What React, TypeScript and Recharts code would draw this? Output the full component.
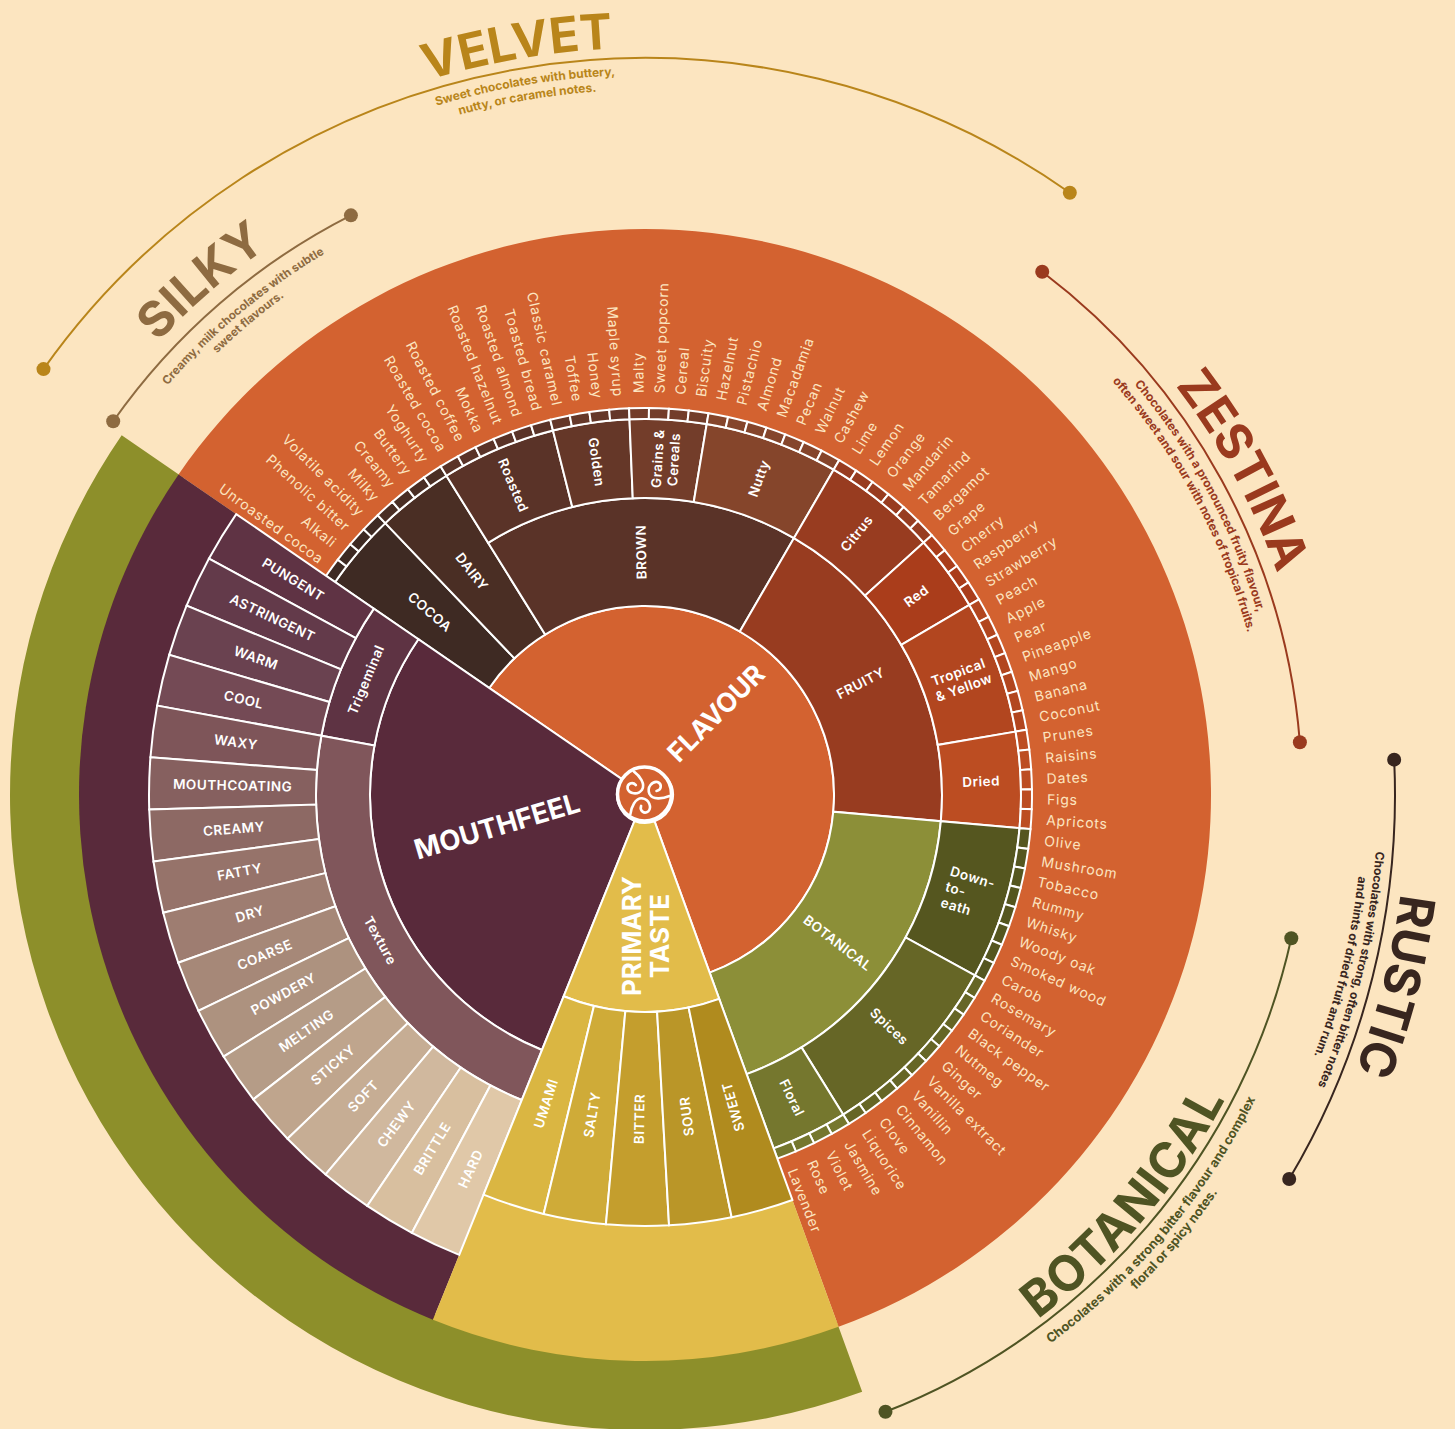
import { Cell, Pie, PieChart } from "recharts";

const CX = 645;
const CY = 795;
const PAPER = "#fce5c0";
const FONT = "Inter, 'Noto Sans', sans-serif";

const COCOA_NOTES = ["Unroasted cocoa", "Alkali", "Phenolic bitter", "Volatile acidity"];
const DAIRY_NOTES = ["Milky", "Creamy", "Buttery", "Yoghurty"];
const ROASTED_NOTES = ["Roasted cocoa", "Roasted coffee", "Mokka", "Roasted hazelnut", "Roasted almond", "Toasted bread"];
const GOLDEN_NOTES = ["Classic caramel", "Toffee", "Honey", "Maple syrup"];
const GRAIN_NOTES = ["Malty", "Sweet popcorn", "Cereal", "Biscuity"];
const NUTTY_NOTES = ["Hazelnut", "Pistachio", "Almond", "Macadamia", "Pecan", "Walnut", "Cashew"];
const CITRUS_NOTES = ["Lime", "Lemon", "Orange", "Mandarin", "Tamarind", "Bergamot"];
const RED_NOTES = ["Grape", "Cherry", "Raspberry", "Strawberry"];
const TROPICAL_NOTES = ["Peach", "Apple", "Pear", "Pineapple", "Mango", "Banana", "Coconut"];
const DRIED_NOTES = ["Prunes", "Raisins", "Dates", "Figs", "Apricots"];
const EARTH_NOTES = ["Olive", "Mushroom", "Tobacco", "Rummy", "Whisky", "Woody oak", "Smoked wood", "Carob"];
const SPICE_NOTES = ["Rosemary", "Coriander", "Black pepper", "Nutmeg", "Ginger", "Vanilla extract", "Vanillin", "Cinnamon", "Clove", "Liquorice"];
const FLORAL_NOTES = ["Jasmine", "Violet", "Rose", "Lavender"];

const FLAVOUR_GROUPS = ["COCOA", "DAIRY", "Roasted", "Golden", "Grains &\nCereals", "Nutty", "Citrus", "Red", "Tropical\n& Yellow", "Dried", "Down-\nto-\neath", "Spices", "Floral"];
const GROUP_NOTES = [COCOA_NOTES, DAIRY_NOTES, ROASTED_NOTES, GOLDEN_NOTES, GRAIN_NOTES, NUTTY_NOTES, CITRUS_NOTES, RED_NOTES, TROPICAL_NOTES, DRIED_NOTES, EARTH_NOTES, SPICE_NOTES, FLORAL_NOTES];
const GROUP_COLORS = ["#3e2a23", "#4a2e24", "#5a3328", "#653728", "#733d2a", "#85452b", "#983c20", "#aa3d1b", "#b2461f", "#bc4d22", "#55561f", "#666626", "#75772e"];

const FAMILIES = ["BROWN", "FRUITY", "BOTANICAL"];
const FAMILY_COUNTS = [21, 22, 22];
const FAMILY_COLORS = ["#5a3328", "#983c20", "#8c8f38"];

const TEXTURE_GROUPS = ["Trigeminal", "Texture"];
const TEXTURE_COUNTS = [4, 13];
const TEXTURE_COLORS = ["#5e3343", "#80565b"];
const MOUTH_TERMS = ["PUNGENT", "ASTRINGENT", "WARM", "COOL", "WAXY", "MOUTHCOATING", "CREAMY", "FATTY", "DRY", "COARSE", "POWDERY", "MELTING", "STICKY", "SOFT", "CHEWY", "BRITTLE", "HARD"];
const MOUTH_COLORS = ["#5f3344", "#633a4a", "#6a4250", "#744a55", "#7e5559", "#86605f", "#8d6964", "#96736a", "#9e7d71", "#a68878", "#ad927f", "#b59c87", "#bfa58d", "#c6ad94", "#d0b89e", "#d8bf9f", "#e0c8a8"];

const TASTES = ["UMAMI", "SALTY", "BITTER", "SOUR", "SWEET"];
const TASTE_COLORS = ["#dab642", "#cfab38", "#c49e2d", "#ba9628", "#b08b1e"];

const STYLE_NAMES = ["VELVET", "SILKY", "ZESTINA", "RUSTIC", "BOTANICAL"];
const STYLE_LINES = [
  ["Sweet chocolates with buttery,", "nutty, or caramel notes."],
  ["Creamy, milk chocolates with subtle", "sweet flavours."],
  ["Chocolates with a pronounced fruity flavour,", "often sweet and sour with notes of tropical fruits."],
  ["Chocolates with strong, often bitter notes", "and hints of dried fruit and rum."],
  ["Chocolates with a strong bitter flavour and complex", "floral or spicy notes."],
];
const STYLE_COLORS = ["#b9851a", "#8e6b41", "#9a3a1e", "#38261f", "#4f5423"];
// arc radius, arc start/end, title baseline + angle, text line baselines, text angle
const STYLE_LAYOUT = [
  { r: 737, a0: 144.7, a1: 54.8, titleR: 747, titleA: 99.7, track: 0, lineR: [720, 705], lineA: 99.6, lineSize: 12, flip: false },
  { r: 650, a0: 144.9, a1: 116.9, titleR: 665, titleA: 130.8, track: 0.3, lineR: [629, 615], lineA: 130, lineSize: 11.7, flip: false },
  { r: 657, a0: 52.8, a1: 4.6, titleR: 670, titleA: 28.5, track: 0, lineR: [639, 624], lineA: 28.3, lineSize: 12, flip: false },
  { r: 750, a0: 2.7, a1: -30.8, titleR: 762, titleA: -14.3, track: 0, lineR: [733, 718], lineA: -13.9, lineSize: 12, flip: false },
  { r: 662, a0: -12.5, a1: -68.7, titleR: 655, titleA: -40.4, track: 0.9, lineR: [682, 697], lineA: -40, lineSize: 12.8, flip: true },
];

const FLAVOUR_START = 145.5;
const FLAVOUR_END = -70;
const MOUTH_END = 248;
const TASTE_END = 290;

const noteCount = GROUP_NOTES.reduce((n, g) => n + g.length, 0);
const perNote = (FLAVOUR_START - FLAVOUR_END) / noteCount;
const wholeGroups = 2;
const wholeCount = GROUP_NOTES.slice(0, wholeGroups).reduce((n, g) => n + g.length, 0);
const GROUP_SPLIT = FLAVOUR_START - wholeCount * perNote;

const noteData = GROUP_NOTES.flatMap((g, i) => g.map((name) => ({ name, value: 1, group: i })));
const groupData = FLAVOUR_GROUPS.map((name, i) => ({ name, value: GROUP_NOTES[i].length }));
const familyData = FAMILIES.map((name, i) => ({ name, value: FAMILY_COUNTS[i] }));
const textureData = TEXTURE_GROUPS.map((name, i) => ({ name, value: TEXTURE_COUNTS[i] }));
const mouthData = MOUTH_TERMS.map((name) => ({ name, value: 1 }));
const tasteData = TASTES.map((name) => ({ name, value: 1 }));

const RAD = Math.PI / 180;
const polar = (r: number, a: number) => ({ x: CX + r * Math.cos(a * RAD), y: CY - r * Math.sin(a * RAD) });

function arcPath(r: number, a0: number, a1: number) {
  const p0 = polar(r, a0);
  const p1 = polar(r, a1);
  const large = Math.abs(a1 - a0) > 180 ? 1 : 0;
  const sweep = a1 < a0 ? 1 : 0;
  return `M${p0.x},${p0.y} A${r},${r} 0 ${large} ${sweep} ${p1.x},${p1.y}`;
}

function multiline(name: string, x: number, y: number, rot: number, size: number, weight: number, spacing: number, leading = 1.2) {
  const lines = name.split("\n");
  const leftAlign = lines.length === 3;
  const lh = size * leading;
  return (
    <text
      x={x}
      y={y}
      transform={`rotate(${rot} ${x} ${y})`}
      textAnchor={leftAlign ? "start" : "middle"}
      fill="#fff"
      fontFamily={FONT}
      fontSize={size}
      fontWeight={weight}
      letterSpacing={spacing}
    >
      {lines.map((l, i) => (
        <tspan key={i} x={leftAlign ? x - 22 : x} y={y + size * 0.36 + (i - (lines.length - 1) / 2) * lh}>
          {l}
        </tspan>
      ))}
    </text>
  );
}

// text centred in the ring, turned so it reads along the radius
function radialLabel(keepLeft?: boolean) {
  return (props: any) => {
    const { midAngle, innerRadius, outerRadius, name } = props;
    const { x, y } = polar((innerRadius + outerRadius) / 2, midAngle);
    const a = ((midAngle % 360) + 360) % 360;
    const flip = keepLeft ? a > 91.5 : a > 91.5 && a < 270;
    return multiline(String(name), x, y, flip ? 180 - a : -a, 13.5, 600, 0.5);
  };
}

// for the two cells that read along the ring instead
function tangentLabel(props: any) {
  const { midAngle, innerRadius, outerRadius, name } = props;
  const { x, y } = polar((innerRadius + outerRadius) / 2, midAngle);
  const rot = midAngle > 180 ? 270 - midAngle : 90 - midAngle;
  return multiline(String(name), x, y, rot, 13.5, 600, 0.5);
}

function noteLabel(props: any) {
  const { midAngle, name } = props;
  const a = ((midAngle % 360) + 360) % 360;
  const flip = a > 91.5 && a < 270;
  const { x, y } = polar(flip ? 399 : 402, midAngle);
  return (
    <text
      x={x}
      y={y}
      dy="0.36em"
      transform={`rotate(${flip ? 180 - a : -a} ${x} ${y})`}
      textAnchor={flip ? "end" : "start"}
      fill={PAPER}
      fontFamily={FONT}
      fontSize={14}
      letterSpacing={0.8}
    >
      {name}
    </text>
  );
}

function textArc(r: number, a: number, flip: boolean) {
  return flip ? arcPath(r, a - 45, a + 45) : arcPath(r, a + 45, a - 45);
}

function StyleArc({ index }: { index: number }) {
  const l = STYLE_LAYOUT[index];
  const color = STYLE_COLORS[index];
  const p0 = polar(l.r, l.a0);
  const p1 = polar(l.r, l.a1);
  return (
    <g>
      <defs>
        <path id={`t${index}`} d={textArc(l.titleR, l.titleA, l.flip)} />
        <path id={`a${index}`} d={textArc(l.lineR[0], l.lineA, l.flip)} />
        <path id={`b${index}`} d={textArc(l.lineR[1], l.lineA, l.flip)} />
      </defs>
      <path d={arcPath(l.r, l.a0, l.a1)} fill="none" stroke={color} strokeWidth={2} />
      <circle cx={p0.x} cy={p0.y} r={7} fill={color} />
      <circle cx={p1.x} cy={p1.y} r={7} fill={color} />
      <text fontFamily={FONT} fontSize={49} fontWeight={700} letterSpacing={l.track} fill={color} textAnchor="middle">
        <textPath href={`#t${index}`} startOffset="50%">
          {STYLE_NAMES[index]}
        </textPath>
      </text>
      {STYLE_LINES[index].map((line, i) => (
        <text key={i} fontFamily={FONT} fontSize={l.lineSize} fontWeight={700} fill={color} textAnchor="middle">
          <textPath href={`#${i === 0 ? "a" : "b"}${index}`} startOffset="50%">
            {line}
          </textPath>
        </text>
      ))}
    </g>
  );
}

// the small triple spiral in the middle
function logoLabel() {
  return (
    <g transform={`translate(${CX - 0.5} ${CY - 1})`}>
      <circle r={27} fill="#d36230" stroke="#fff" strokeWidth={3.5} />
      {[0, 120, 240].map((turn) => (
        <path
          key={turn}
          transform={`rotate(${turn})`}
          d="M25,2 C18,5 8,6 5,0 C2,-7 8,-13 13,-12 C18,-10 17,-4 12,-3"
          fill="none"
          stroke="#fff"
          strokeWidth={2.6}
          strokeLinecap="round"
        />
      ))}
    </g>
  );
}

const ring = { dataKey: "value", cx: CX, cy: CY, isAnimationActive: false, labelLine: false };
const line = { stroke: "#fff", strokeWidth: 2 };

export default function App() {
  return (
    <div style={{ position: "absolute", left: 0, top: 0, width: 1455, height: 1429, background: PAPER, overflow: "hidden" }}>
      <PieChart width={1455} height={1429} margin={{ top: 0, right: 0, bottom: 0, left: 0 }}>
        {STYLE_NAMES.map((name, i) => <StyleArc key={name} index={i} />)}

        {/* wide backing bands */}
        <Pie {...ring} data={[{ name: "band", value: 1 }]} startAngle={FLAVOUR_START} endAngle={TASTE_END} innerRadius={560} outerRadius={635} fill="#8d8f2a" stroke="none" />
        <Pie {...ring} data={[{ name: "flavour", value: 1 }]} startAngle={FLAVOUR_START} endAngle={FLAVOUR_END} innerRadius={0} outerRadius={566} fill="#d36230" stroke="none" />
        <Pie {...ring} data={[{ name: "mouthfeel", value: 1 }]} startAngle={FLAVOUR_START} endAngle={MOUTH_END} innerRadius={0} outerRadius={566} fill="#592a3b" stroke="none" />
        <Pie {...ring} data={[{ name: "taste", value: 1 }]} startAngle={MOUTH_END} endAngle={TASTE_END} innerRadius={0} outerRadius={566} fill="#e2bc4a" stroke="none" />

        {/* flavour */}
        <Pie {...ring} {...line} data={[{ name: "FLAVOUR", value: 1 }]} startAngle={FLAVOUR_START} endAngle={FLAVOUR_END} innerRadius={28} outerRadius={189} fill="#d36230"
          label={() => multiline("FLAVOUR", 716, 713, -45, 26.5, 700, 0)} />
        <Pie {...ring} {...line} data={groupData.slice(0, wholeGroups)} startAngle={FLAVOUR_START} endAngle={GROUP_SPLIT} innerRadius={189} outerRadius={376} label={radialLabel()}>
          {groupData.slice(0, wholeGroups).map((d, i) => <Cell key={d.name} fill={GROUP_COLORS[i]} />)}
        </Pie>
        <Pie {...ring} {...line} data={familyData} startAngle={GROUP_SPLIT} endAngle={FLAVOUR_END} innerRadius={189} outerRadius={297} label={radialLabel()}>
          {familyData.map((d, i) => <Cell key={d.name} fill={FAMILY_COLORS[i]} />)}
        </Pie>
        <Pie {...ring} {...line} data={groupData.slice(wholeGroups)} startAngle={GROUP_SPLIT} endAngle={FLAVOUR_END} innerRadius={297} outerRadius={376} label={radialLabel()}>
          {groupData.slice(wholeGroups).map((d, i) => <Cell key={d.name} fill={GROUP_COLORS[i + wholeGroups]} />)}
        </Pie>
        <Pie {...ring} {...line} data={noteData} startAngle={FLAVOUR_START} endAngle={FLAVOUR_END} innerRadius={376} outerRadius={387} label={noteLabel}>
          {noteData.map((d) => <Cell key={d.name} fill={GROUP_COLORS[d.group]} />)}
        </Pie>

        {/* mouthfeel */}
        <Pie {...ring} {...line} data={[{ name: "MOUTHFEEL", value: 1 }]} startAngle={FLAVOUR_START} endAngle={MOUTH_END} innerRadius={28} outerRadius={275} fill="#592a3b"
          label={() => multiline("MOUTHFEEL", 497, 826, -16.5, 27.5, 700, 0)} />
        <Pie {...ring} {...line} data={textureData} startAngle={FLAVOUR_START} endAngle={MOUTH_END} innerRadius={275} outerRadius={329} label={tangentLabel}>
          {textureData.map((d, i) => <Cell key={d.name} fill={TEXTURE_COLORS[i]} />)}
        </Pie>
        <Pie {...ring} {...line} data={mouthData} startAngle={FLAVOUR_START} endAngle={MOUTH_END} innerRadius={329} outerRadius={496} label={radialLabel()}>
          {mouthData.map((d, i) => <Cell key={d.name} fill={MOUTH_COLORS[i]} />)}
        </Pie>

        {/* primary taste */}
        <Pie {...ring} {...line} data={[{ name: "PRIMARY\nTASTE", value: 1 }]} startAngle={MOUTH_END} endAngle={TASTE_END} innerRadius={28} outerRadius={217} fill="#e2bc4a"
          label={() => multiline("PRIMARY\nTASTE", 646, 936, -90, 26, 700, 0, 1.08)} />
        <Pie {...ring} {...line} data={tasteData} startAngle={MOUTH_END} endAngle={TASTE_END} innerRadius={217} outerRadius={431} label={radialLabel(true)}>
          {tasteData.map((d, i) => <Cell key={d.name} fill={TASTE_COLORS[i]} />)}
        </Pie>

        <Pie {...ring} data={[{ name: "logo", value: 1 }]} innerRadius={0} outerRadius={27} fill="#d36230" stroke="none" label={logoLabel} />
      </PieChart>
    </div>
  );
}
